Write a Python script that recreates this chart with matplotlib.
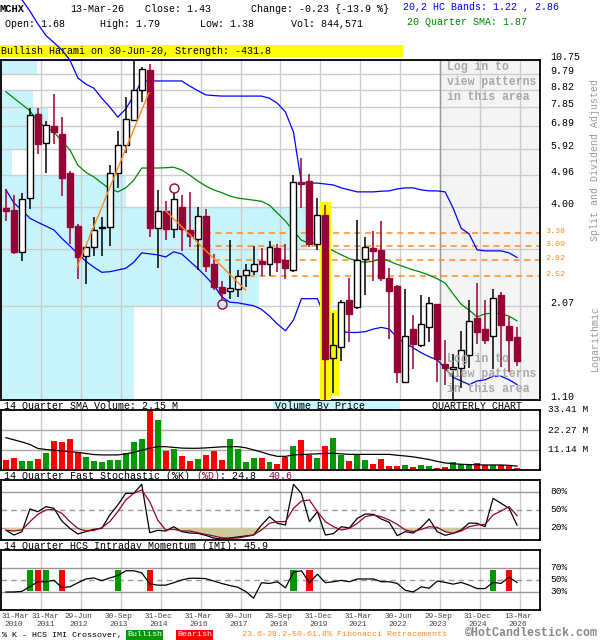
import matplotlib
matplotlib.use("Agg")
import matplotlib.pyplot as plt
import matplotlib.transforms as mtransforms
from matplotlib.patches import Rectangle
import numpy as np

W, H = 600, 640
FONT = "Liberation Mono"
FS = 7.2  # ~6 px per character
MAROON = "#990033"
GRID = "#cccccc"
CYAN = "#c8f4fc"
ORANGE = "#ff8a1f"

# quarterly candles, 2010Q1 .. 2026Q1
open_ = [3.99, 3.93, 2.96, 4.26, 7.48, 6.17, 6.91, 6.54, 5.05, 3.53,
         2.88, 3.07, 3.49, 3.51, 5.03, 6.10, 7.17, 8.82, 10.05, 3.49,
         3.91, 3.46, 4.01, 3.44, 3.24, 3.77, 2.73, 2.34, 2.28, 2.31,
         2.55, 2.62, 2.79, 2.73, 3.05, 2.82, 2.63, 4.75, 4.78, 3.13,
         3.80, 1.46, 1.57, 2.15, 2.05, 2.83, 3.05, 3.01, 2.50, 2.37,
         1.24, 1.77, 1.59, 1.80, 2.09, 1.40, 1.35, 1.36, 1.49, 1.90,
         1.77, 1.69, 2.23, 1.81, 1.68]
high = [4.52, 4.35, 4.42, 7.80, 7.80, 7.15, 8.55, 7.34, 5.10, 3.59,
        3.09, 3.74, 3.74, 5.31, 6.67, 8.37, 11.50, 10.23, 10.46, 4.50,
        4.17, 4.42, 4.35, 4.44, 4.01, 3.95, 2.93, 2.45, 3.21, 2.63,
        2.74, 3.09, 3.05, 3.20, 3.14, 3.14, 4.97, 5.56, 5.00, 4.25,
        4.06, 1.97, 2.15, 2.50, 3.67, 3.29, 3.42, 3.66, 2.67, 2.38,
        2.31, 1.94, 2.22, 2.20, 2.10, 1.65, 1.50, 1.75, 2.15, 2.41,
        2.15, 2.31, 2.27, 1.92, 1.79]
low = [3.66, 2.92, 2.79, 3.96, 5.72, 5.05, 6.14, 4.32, 3.13, 2.47,
       2.39, 2.88, 2.89, 3.09, 4.55, 5.78, 7.14, 8.12, 3.28, 2.66,
       3.22, 3.26, 2.99, 3.06, 2.63, 2.60, 2.30, 2.15, 2.17, 2.20,
       2.34, 2.54, 2.52, 2.52, 2.60, 2.47, 2.60, 3.99, 3.06, 3.01,
       1.05, 1.15, 1.43, 1.62, 2.02, 2.23, 2.45, 2.44, 1.66, 1.23,
       1.23, 1.35, 1.57, 1.62, 1.24, 1.22, 1.11, 1.19, 1.36, 1.60,
       1.60, 1.35, 1.37, 1.33, 1.38]
close = [3.91, 2.97, 4.22, 7.43, 6.12, 6.95, 6.64, 4.88, 3.51, 2.86,
         3.07, 3.44, 3.52, 5.03, 6.08, 7.22, 8.82, 10.12, 3.49, 3.91,
         3.46, 4.22, 3.46, 3.30, 3.78, 2.70, 2.34, 2.25, 2.33, 2.53,
         2.63, 2.74, 2.73, 3.06, 2.78, 2.66, 4.73, 4.68, 3.13, 3.79,
         1.45, 1.59, 2.12, 1.96, 2.82, 3.06, 2.99, 2.49, 2.28, 1.33,
         1.69, 1.60, 1.83, 2.11, 1.45, 1.36, 1.37, 1.54, 1.87, 1.74,
         1.64, 2.18, 1.82, 1.65, 1.43]

band_upper = [18.5, 17.3, 16.1, 14.92, 13.68, 12.67, 12.08, 11.50, 10.75, 9.53,
              9.15, 8.90, 8.32, 7.84, 7.33, 7.74, 8.47, 9.34, 9.34, 9.34,
              9.34, 9.34, 9.34, 9.03, 8.76, 8.51, 8.47, 8.44, 8.44, 8.44,
              8.44, 8.44, 8.44, 8.32, 8.04, 7.58, 6.63, 4.71, 4.71, 4.71,
              4.68, 4.65, 4.56, 4.50, 4.44, 4.44, 4.44, 4.46, 4.47, 4.53,
              4.56, 4.56, 4.50, 4.47, 4.47, 4.44, 3.98, 3.48, 3.35, 3.01,
              2.99, 2.99, 2.99, 2.95, 2.86]
band_lower = [4.50, 4.12, 3.93, 3.72, 3.62, 3.53, 3.44, 3.25, 3.09, 2.93,
              2.79, 2.68, 2.59, 2.60, 2.63, 2.66, 2.77, 2.95, 2.93, 2.91,
              2.87, 2.97, 2.93, 2.79, 2.66, 2.52, 2.38, 2.20, 2.12, 2.11,
              2.09, 2.07, 2.02, 1.93, 1.83, 1.75, 1.88, 2.17, 2.17, 2.17,
              1.91, 1.80, 1.74, 1.73, 1.73, 1.74, 1.77, 1.79, 1.77, 1.67,
              1.61, 1.56, 1.51, 1.47, 1.44, 1.36, 1.28, 1.25, 1.22, 1.25,
              1.26, 1.29, 1.29, 1.26, 1.22]
sma20 = [8.69, 8.32, 7.98, 7.65, 7.09, 6.85, 6.63, 6.24, 5.89, 5.31,
         5.06, 4.91, 4.71, 4.53, 4.44, 4.56, 4.80, 5.21, 5.21, 5.21,
         5.22, 5.24, 5.14, 4.97, 4.78, 4.62, 4.50, 4.42, 4.32, 4.26,
         4.23, 4.20, 4.17, 4.06, 3.85, 3.65, 3.42, 3.21, 3.15, 3.15,
         3.07, 2.99, 2.91, 2.84, 2.79, 2.77, 2.79, 2.84, 2.79, 2.73,
         2.68, 2.63, 2.59, 2.54, 2.48, 2.41, 2.24, 2.09, 2.01, 1.92,
         1.96, 1.97, 1.96, 1.93, 1.87]

volume = [5.6, 6.9, 5.0, 5.0, 6.1, 9.5, 16.2, 15.6, 17.5, 10.0,
          7.2, 5.0, 4.5, 5.6, 5.6, 9.5, 15.6, 17.5, 34.0, 27.9,
          10.6, 11.7, 7.8, 5.0, 6.1, 8.4, 10.6, 5.6, 17.3, 11.7,
          4.5, 6.7, 6.7, 4.5, 3.3, 7.4, 13.4, 16.7, 8.5, 6.7,
          13.4, 17.8, 8.4, 5.0, 8.5, 5.6, 3.3, 6.1, 2.2, 2.2,
          2.8, 1.9, 2.8, 2.2, 1.1, 1.7, 4.5, 3.3, 2.8, 3.9,
          2.8, 2.8, 2.8, 2.8, 0.84]
vol_sma = [18.0, 16.8, 15.6, 14.2, 12.0, 11.4, 11.0, 10.6, 10.2, 9.8,
           9.2, 8.6, 8.4, 8.4, 8.4, 9.0, 9.8, 11.0, 12.2, 13.0,
           13.0, 12.6, 12.2, 12.1, 12.1, 12.3, 12.6, 12.9, 13.0, 13.0,
           12.4, 11.2, 10.0, 8.6, 7.6, 7.6, 8.4, 8.6, 8.8, 9.0,
           9.2, 9.3, 9.0, 8.7, 8.7, 8.7, 8.7, 8.7, 8.7, 8.2,
           7.8, 7.3, 6.6, 5.8, 4.8, 3.9, 3.5, 3.2, 3.0, 2.9,
           2.8, 2.8, 2.8, 2.6, 2.15]

stoch_k = [16.1, 8.3, 13.9, 51.7, 47.2, 55.6, 52.8, 31.7, 19.4, 10.0,
           13.9, 17.8, 19.4, 41.7, 58.3, 77.8, 77.8, 92.8, 12.2, 16.1,
           15.0, 22.2, 13.9, 11.7, 11.1, 7.8, 3.3, 1.7, 3.3, 5.0,
           6.7, 8.3, 25.0, 38.9, 27.8, 25.0, 92.8, 77.8, 30.6, 47.2,
           8.3, 10.6, 22.2, 20.0, 36.1, 43.3, 42.8, 35.0, 29.4, 7.2,
           13.9, 11.7, 21.1, 35.0, 13.9, 7.8, 11.1, 16.7, 28.3, 27.8,
           22.2, 69.4, 61.1, 52.8, 24.8]
stoch_d = [16.1, 15.0, 16.7, 30.6, 42.8, 50.0, 51.1, 44.4, 30.6, 19.4,
           15.0, 16.1, 20.6, 30.6, 47.2, 66.7, 77.8, 83.3, 63.9, 33.3,
           16.7, 17.8, 15.0, 15.0, 12.2, 9.4, 6.7, 3.9, 2.8, 3.3,
           5.6, 8.3, 16.7, 27.8, 30.6, 30.6, 52.8, 65.0, 66.7, 47.2,
           30.6, 22.2, 16.7, 19.4, 27.8, 38.9, 41.7, 38.9, 33.3, 26.1,
           16.7, 13.9, 17.8, 22.2, 21.1, 13.9, 11.1, 15.0, 22.2, 25.0,
           26.1, 41.7, 48.3, 55.6, 40.6]
imi = [30.0, 30.0, 31.1, 39.1, 47.1, 47.1, 49.4, 37.4, 38.6, 45.4,
       51.7, 53.4, 48.9, 53.4, 57.4, 65.4, 65.4, 62.0, 43.7, 41.4,
       41.4, 45.4, 50.0, 52.9, 52.9, 52.3, 48.3, 44.3, 40.9, 38.0,
       31.1, 19.7, 45.4, 44.3, 47.1, 36.9, 63.1, 65.4, 45.4, 59.7,
       45.4, 47.1, 49.4, 47.1, 51.7, 51.7, 51.7, 47.1, 47.1, 44.3,
       32.9, 30.0, 38.6, 36.3, 48.3, 46.0, 43.1, 46.0, 41.4, 35.7,
       35.7, 46.0, 44.3, 54.6, 45.9]
cross_idx = [3, 4, 5, 7, 14, 18, 36, 38, 61, 63]
cross_kind = ["bull", "bear", "bull", "bear", "bull", "bear", "bull", "bear", "bull", "bear"]

price_ticks = [1.10, 2.07, 3.03, 4.00, 4.96, 5.92, 6.89, 7.85, 8.82, 9.79, 10.75]
price_labels = ["1.10", "2.07", "", "4.00", "4.96", "5.92", "6.89", "7.85", "8.82", "9.79", "10.75"]
fib_levels = [3.38, 3.09, 2.82, 2.52]
fib_start = [23.5, 23.5, 26.0, 29.0]
fib_trend_1 = ([8.9, 17.9], [2.68, 8.63])
fib_trend_2 = ([20.0, 30.0], [3.91, 2.30])
pattern_marks = ([21, 27], [4.57, 2.10])
harami_idx = [40, 41]
# volume-by-price share (%) for each band between price_ticks
vbp_share = [13.6, 26.3, 31.2, 12.8, 1.1, 3.3, 4.8, 3.3, 0.0, 3.7]

date_idx = [0, 4, 9, 14, 19, 24, 29, 34, 39, 44, 49, 54, 59, 64]
date_top = ["31-Mar", "31-Mar", "29-Jun", "30-Sep", "31-Dec", "31-Mar", "30-Jun",
            "28-Sep", "31-Dec", "31-Mar", "30-Jun", "29-Sep", "31-Dec", "13-Mar"]
date_bot = ["2010", "2011", "2012", "2013", "2014", "2016", "2017",
            "2018", "2019", "2021", "2022", "2023", "2024", "2026"]

n = len(close)
x = np.arange(n)
o, c = np.array(open_), np.array(close)
up = c >= o

fig = plt.figure(figsize=(W / 100, H / 100), dpi=100)


def panel(top, bottom):
    a = fig.add_axes([1 / W, 1 - bottom / H, 539 / W, (bottom - top) / H])
    a.set_xlim(-0.625, 66.875)
    a.set_xticks([])
    a.set_yticks([])
    for s in a.spines.values():
        s.set_linewidth(1.3)
    for gx in np.arange(4.375, 66, 5):
        a.axvline(gx, color=GRID, lw=1, zorder=1)
    return a


def ftext(px, py, s, **kw):
    kw.setdefault("fontsize", FS)
    kw.setdefault("va", "center")
    fig.text(px / W, 1 - py / H, s, fontfamily=FONT, **kw)


# ---- main price panel
ax = panel(60, 400)
ax.set_yscale("log")
ax.set_ylim(1.10, 10.75)
ax.minorticks_off()
ax.set_yticks([])
for v in price_ticks:
    ax.axhline(v, color=GRID, lw=1, zorder=1)

vbp_tr = mtransforms.blended_transform_factory(ax.transAxes, ax.transData)
for k, share in enumerate(vbp_share):
    w = share / max(vbp_share) * 0.567
    ax.add_patch(Rectangle((0, price_ticks[k]), w, price_ticks[k + 1] - price_ticks[k],
                           transform=vbp_tr, color=CYAN, lw=0, zorder=0.5))

ax.axvspan(54.375, 66.875, color="#f4f4f4", zorder=0.6)
ax.axvline(54.375, color="#999999", lw=1, zorder=1.1)

for lvl, xs in zip(fib_levels, fib_start):
    ax.plot([xs, 66.875], [lvl, lvl], color=ORANGE, lw=1.1, ls=(0, (4, 3)), zorder=2)

ax.plot(x, band_lower, color="#0000ff", lw=0.9, zorder=3)
ax.plot(x, band_upper, color="#0000ff", lw=0.9, zorder=3, clip_on=False)
ax.plot(x, sma20, color="#008800", lw=0.9, zorder=3)

for i in harami_idx:
    ax.bar(i, high[i] * 1.02 - low[i] / 1.02, bottom=low[i] / 1.02, width=1.3,
           color="#ffff00", zorder=3.5)

wick_col = ["black" if u else MAROON for u in up]
ax.vlines(x, low, high, colors=wick_col, lw=1.1, zorder=4)
body_lo = np.minimum(o, c)
body_hi = np.maximum(o, c)
face = []
for i in range(n):
    if not up[i]:
        face.append(MAROON)
    elif i in harami_idx:
        face.append("#ffff00")
    else:
        face.append("white")
ax.bar(x, np.maximum(body_hi - body_lo, 0.004), bottom=body_lo, width=0.75,
       color=face, edgecolor=wick_col, lw=1.0, zorder=4.5)

ax.plot(*fib_trend_1, color=ORANGE, lw=1.0, zorder=5)
ax.plot(*fib_trend_2, color=ORANGE, lw=1.0, zorder=5)
ax.plot(*pattern_marks, ls="none", marker="o", ms=6.5, mfc="none", mec=MAROON,
        mew=1.0, zorder=5)

login_tr = mtransforms.blended_transform_factory(ax.transData, fig.transFigure)
for py0 in (67, 359):
    for j, line in enumerate(["Log in to", "view patterns", "in this area"]):
        ax.text(55.25, 1 - (py0 + 15 * j) / H, line, transform=login_tr, fontfamily=FONT,
                fontsize=8.3, fontweight="bold", color="#a8a8a8", va="center", zorder=6)

lab_tr = mtransforms.offset_copy(
    mtransforms.blended_transform_factory(fig.transFigure, ax.transData),
    fig=fig, x=0, y=3, units="dots")
for v, s in zip(price_ticks, price_labels):
    if s:
        fig.text(550 / W, v, s, transform=lab_tr, fontfamily=FONT, fontsize=FS,
                 va="center", ha="left")
fib_tr = mtransforms.offset_copy(
    mtransforms.blended_transform_factory(fig.transFigure, ax.transData),
    fig=fig, x=0, y=1.5, units="dots")
for v in fib_levels:
    fig.text(545 / W, v, f"{v:.2f}", transform=fib_tr, fontfamily=FONT, fontsize=6,
             color=ORANGE, va="center", ha="left")

fig.text(595 / W, 1 - 160 / H, "Split and Dividend Adjusted", rotation=90, fontfamily=FONT,
         fontsize=FS, color="#999999", ha="center", va="center")
fig.text(595 / W, 1 - 338 / H, "Logarithmic", rotation=90, fontfamily=FONT,
         fontsize=FS, color="#999999", ha="center", va="center")

# ---- header
fig.add_artist(Rectangle((0, 1 - 57 / H), 403 / W, 12 / H, transform=fig.transFigure,
                         color="#ffff00", lw=0, zorder=0))
ftext(0, 9, "MCHX", fontweight="bold", fontsize=7.5)
ftext(70, 9, "13-Mar-26")
ftext(145, 9, f"Close: {close[-1]:.2f}")
ftext(251, 9, "Change: -0.23 {-13.9 %}")
ftext(403, 7, f"20,2 HC Bands: {band_lower[-1]:.2f} , {band_upper[-1]:.2f}", color="#0000ff")
ftext(5, 24, f"Open: {open_[-1]:.2f}")
ftext(100, 24, f"High: {high[-1]:.2f}")
ftext(200, 24, f"Low: {low[-1]:.2f}")
ftext(291, 24, "Vol: 844,571")
ftext(407, 22, f"20 Quarter SMA: {sma20[-1]:.2f}", color="#008800")
ftext(1, 51, "Bullish Harami on 30-Jun-20, Strength: -431.8")

# ---- volume panel
ftext(4, 406, f"14 Quarter SMA Volume: {vol_sma[-1]:.2f} M")
fig.add_artist(Rectangle((273 / W, 1 - 410 / H), 127 / W, 10 / H, transform=fig.transFigure,
                         color=CYAN, lw=0, zorder=0))
ftext(275, 406, "Volume By Price")
ftext(432, 406, "QUARTERLY CHART")

axv = panel(410, 470)
axv.set_ylim(0, 33.41)
for v in (11.14, 22.27):
    axv.axhline(v, color="#aaaaaa", lw=1, zorder=1)
axv.bar(x, volume, width=0.75, color=["#009900" if u else "#ff0000" for u in up], zorder=2)
axv.plot(x, vol_sma, color="black", lw=0.9, zorder=3)
vtr = mtransforms.blended_transform_factory(fig.transFigure, axv.transData)
for v in (33.41, 22.27, 11.14):
    fig.text(548 / W, v, f"{v:.2f} M", transform=vtr, fontfamily=FONT, fontsize=6.8,
             va="center", ha="left")

# ---- stochastic panel (segments placed by character count, 6 px per char)
ftext(4, 476, "14 Quarter Fast Stochastic (%K)")
ftext(4 + 32 * 6, 476, "(%D)", color=MAROON)
ftext(4 + 36 * 6, 476, f": {stoch_k[-1]:.1f}")
ftext(4 + 44 * 6, 476, f"{stoch_d[-1]:.1f}", color=MAROON)

axs = panel(480, 540)
axs.set_ylim(0, 100)
axs.axhline(20, color="#999999", lw=1, zorder=1)
axs.axhline(80, color="#999999", lw=1, zorder=1)
axs.axhline(50, color="#999999", lw=1, ls=(0, (4, 3)), zorder=1)
sd = np.array(stoch_d)
axs.fill_between(x, sd, 20, where=sd < 20, interpolate=True, color="#cdc99a", lw=0, zorder=1.5)
axs.plot(x, stoch_k, color="black", lw=0.9, zorder=3)
axs.plot(x, stoch_d, color=MAROON, lw=0.9, zorder=3)
str_ = mtransforms.blended_transform_factory(fig.transFigure, axs.transData)
for v in (80, 50, 20):
    fig.text(550 / W, v, f"{v}%", transform=str_, fontfamily=FONT, fontsize=6.8,
             va="center", ha="left")

# ---- IMI panel
ftext(4, 546, f"14 Quarter HCS Intraday Momentum (IMI): {imi[-1]:.1f}")
axi = panel(550, 610)
axi.set_ylim(0, 100)
axi.axhline(30, color="#999999", lw=1, zorder=1)
axi.axhline(70, color="#999999", lw=1, zorder=1)
axi.axhline(50, color="#999999", lw=1, ls=(0, (4, 3)), zorder=1)
axi.bar(cross_idx, 36, bottom=31, width=0.8,
        color=["#009900" if k == "bull" else "#ff0000" for k in cross_kind], zorder=2)
axi.plot(x, imi, color="black", lw=0.9, zorder=3)
itr = mtransforms.blended_transform_factory(fig.transFigure, axi.transData)
for v in (70, 50, 30):
    fig.text(550 / W, v, f"{v}%", transform=itr, fontfamily=FONT, fontsize=6.8,
             va="center", ha="left")

# ---- date labels
dtr = mtransforms.blended_transform_factory(axi.transData, fig.transFigure)
for k, (i, t, b) in enumerate(zip(date_idx, date_top, date_bot)):
    if k == 0:
        xt, ha, xb = -0.6, "left", 1.0
    elif k == 1:
        xt, ha, xb = i + 1, "center", i + 1
    else:
        xt, ha, xb = i + 0.1, "center", i + 0.1
    fig.text(xt, 1 - 616 / H, t, transform=dtr, fontfamily=FONT, fontsize=5.6,
             color="#444444", ha=ha, va="center")
    fig.text(xb, 1 - 624 / H, b, transform=dtr, fontfamily=FONT, fontsize=5.6,
             color="#444444", ha="center", va="center")

# ---- legend row
ftext(2, 635, "% K - HCS IMI Crossover,", fontsize=6)
ftext(127, 635, "Bullish", fontsize=6, color="white",
      bbox=dict(boxstyle="square,pad=0.15", fc="#009900", ec="none"))
ftext(177, 635, "Bearish", fontsize=6, color="white",
      bbox=dict(boxstyle="square,pad=0.15", fc="#ff0000", ec="none"))
ftext(242, 635, "23.6-38.2-50-61.8% Fibonacci Retracements", fontsize=6, color=ORANGE)
ftext(465, 633, "\u00a9HotCandlestick.com", fontsize=8.4, fontweight="bold", color="#888888")

fig.savefig("out.png", dpi=100)
